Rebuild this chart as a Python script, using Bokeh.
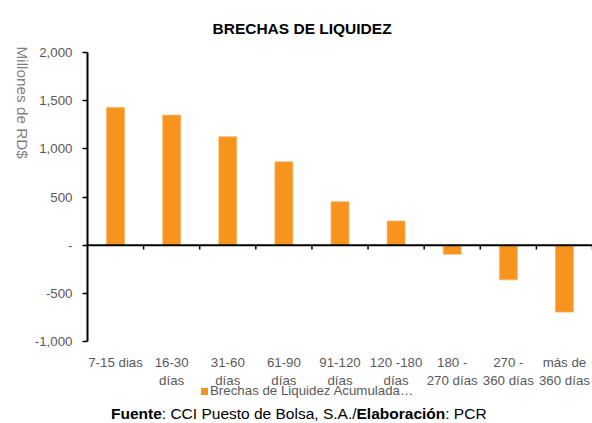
import math
from bokeh.plotting import figure
from bokeh.layouts import column
from bokeh.models import (Range1d, FixedTicker, Span, ColumnDataSource, Title, Div)
from bokeh.embed import file_html
from bokeh.resources import INLINE

# ---- data ----
categories = ["7-15 dias", "16-30\ndías", "31-60\ndías", "61-90\ndías",
              "91-120\ndías", "120 -180\ndías", "180 -\n270 días",
              "270 -\n360 días", "más de\n360 días"]
values = [1430, 1350, 1125, 865, 450, 250, -95, -360, -695]
y_ticks = [-1000, -500, 0, 500, 1000, 1500, 2000]
y_tick_labels = ["-1,000", "-500", "-", "500", "1,000", "1,500", "2,000"]
series_name = "Brechas de Liquidez Acumulada…"
title_text = "BRECHAS DE LIQUIDEZ"
y_label = "Millones de RD$"
footer_html = "<b>Fuente</b>: CCI Puesto de Bolsa, S.A./<b>Elaboración</b>: PCR"

FONT = "Liberation Sans"
ORANGE = "#F7941E"
GRAY = "#595959"

p = figure(x_range=categories, y_range=Range1d(-1000, 2000),
           width=592, height=390, output_backend="svg", toolbar_location=None,
           min_border_left=87, min_border_right=0, min_border_top=52,
           min_border_bottom=40, outline_line_color=None)
p.xgrid.visible = False
p.ygrid.visible = False

p.title = Title(text=title_text, align="left", offset=125, standoff=31,
                text_font=FONT, text_font_style="bold", text_font_size="15.5px",
                text_color="black")

src = ColumnDataSource(dict(cat=categories, val=values))
bars = p.vbar(x="cat", top="val", width=0.32, source=src, fill_color=ORANGE,
              line_color="#FBB56A", line_width=0.8)

# zero line
p.add_layout(Span(location=0, dimension="width", line_color="black", line_width=2))

# boundary ticks on zero line (right edge of each category)
bx = [[c, 0.5] for c in categories]
p.segment(x0=bx, x1=bx, y0=[0] * len(bx), y1=[-45] * len(bx),
          line_color="black", line_width=1.5)

# y axis
ya = p.yaxis[0]
ya.ticker = FixedTicker(ticks=y_ticks)
ya.major_label_overrides = {t: l for t, l in zip(y_ticks, y_tick_labels)}
ya.axis_line_color = "black"
ya.axis_line_width = 2
ya.major_tick_out = 5
ya.major_tick_in = 0
ya.major_tick_line_width = 1.5
ya.minor_tick_line_color = None
ya.major_label_standoff = 10
ya.major_label_text_font = FONT
ya.major_label_text_font_size = "13.3px"
ya.major_label_text_color = GRAY
# label sits in the upper part of the axis, reading downwards
ya.axis_label = y_label + "\u00a0" * 9
ya.axis_label_text_font = FONT
ya.axis_label_text_font_size = "15.3px"
ya.axis_label_text_font_style = "normal"
ya.axis_label_text_color = "#7F7F7F"
ya.axis_label_standoff = 9
try:
    ya.axis_label_orientation = -math.pi / 2
except Exception:
    pass

# x axis
xa = p.xaxis[0]
xa.axis_line_color = None
xa.major_tick_line_color = None
xa.minor_tick_line_color = None
xa.major_label_standoff = 7
xa.major_label_text_font = FONT
xa.major_label_text_font_size = "13.3px"
xa.major_label_text_color = GRAY

legend_div = Div(
    text=(f'<div style="position:relative;top:-6px">'
          f'<span style="display:inline-block;width:7px;height:7px;'
          f'background:{ORANGE};margin-right:2px"></span>{series_name}</div>'),
    width=592, height=14, margin=0,
    styles={"font-family": FONT, "font-size": "13.3px", "line-height": "14px",
            "color": GRAY, "padding-left": "201px", "white-space": "nowrap"})

footer = Div(text=footer_html, width=592, height=19, margin=0,
             styles={"font-family": FONT, "font-size": "15.5px",
                     "line-height": "19px", "color": "black",
                     "padding-left": "111px", "white-space": "nowrap"})

open("out.html", "w").write(
    file_html(column(p, legend_div, footer, spacing=0), INLINE))
